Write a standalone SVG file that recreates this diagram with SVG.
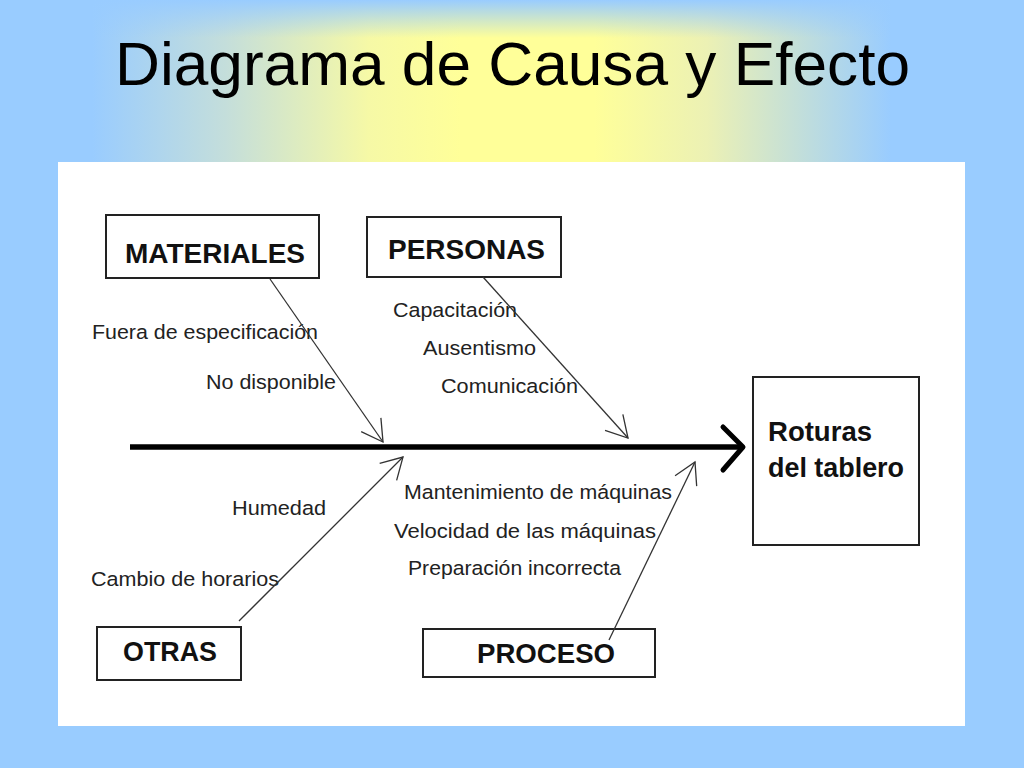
<svg xmlns="http://www.w3.org/2000/svg" width="1024" height="768" viewBox="0 0 1024 768">
  <defs>
    <linearGradient id="glow" x1="0" y1="0" x2="1024" y2="0" gradientUnits="userSpaceOnUse">
      <stop offset="0.09" stop-color="#99CCFF"/>
      <stop offset="0.22" stop-color="#C4DEDB"/>
      <stop offset="0.36" stop-color="#F6F9A6"/>
      <stop offset="0.45" stop-color="#FFFF99"/>
      <stop offset="0.58" stop-color="#FFFF99"/>
      <stop offset="0.69" stop-color="#ECF1B4"/>
      <stop offset="0.87" stop-color="#99CCFF"/>
    </linearGradient>
    <linearGradient id="topfade" x1="0" y1="0" x2="0" y2="38" gradientUnits="userSpaceOnUse">
      <stop offset="0" stop-color="#99CCFF" stop-opacity="1"/>
      <stop offset="1" stop-color="#99CCFF" stop-opacity="0"/>
    </linearGradient>
    <marker id="open" markerUnits="userSpaceOnUse" markerWidth="30" markerHeight="30" viewBox="-25 -15 30 30" refX="0" refY="0" orient="auto">
      <path d="M -21 -12 L 0 0 L -21 12" fill="none" stroke="#333" stroke-width="1.3"/>
    </marker>
    <style>
      .box { fill: #fff; stroke: #222; stroke-width: 2; }
      .head { font-family: "Liberation Sans", Arial, sans-serif; font-weight: bold; font-size: 28px; fill: #111; }
      .lbl { font-family: "Liberation Sans", Arial, sans-serif; font-size: 20.5px; fill: #222; }
      .bone { stroke: #333; stroke-width: 1.3; fill: none; marker-end: url(#open); }
    </style>
  </defs>

  <rect x="0" y="0" width="1024" height="768" fill="#99CCFF"/>
  <rect x="0" y="0" width="1024" height="170" fill="url(#glow)"/>
  <rect x="0" y="0" width="1024" height="40" fill="url(#topfade)"/>

  <text x="115" y="85" font-family="'Liberation Sans', Arial, sans-serif" font-size="61" fill="#000" textLength="795" lengthAdjust="spacingAndGlyphs">Diagrama de Causa y Efecto</text>

  <rect x="58" y="162" width="907" height="564" fill="#fff"/>

  <g id="materiales">
    <rect class="box" x="106" y="215" width="213" height="63"/>
    <text class="head" x="125" y="263" textLength="180" lengthAdjust="spacingAndGlyphs">MATERIALES</text>
  </g>
  <g id="personas">
    <rect class="box" x="367" y="217" width="194" height="60"/>
    <text class="head" x="388" y="259" textLength="157" lengthAdjust="spacingAndGlyphs">PERSONAS</text>
  </g>
  <g id="otras">
    <rect class="box" x="97" y="627" width="144" height="53"/>
    <text class="head" x="123" y="661" textLength="94" lengthAdjust="spacingAndGlyphs">OTRAS</text>
  </g>
  <g id="proceso">
    <rect class="box" x="423" y="629" width="232" height="48"/>
    <text class="head" x="477" y="663" textLength="138" lengthAdjust="spacingAndGlyphs">PROCESO</text>
  </g>
  <g id="efecto">
    <rect class="box" x="753" y="377" width="166" height="168"/>
    <text class="head" x="768" y="441" font-size="27" textLength="104" lengthAdjust="spacingAndGlyphs">Roturas</text>
    <text class="head" x="768" y="477" font-size="27" textLength="136" lengthAdjust="spacingAndGlyphs">del tablero</text>
  </g>

  <g id="labels">
    <text class="lbl" x="92" y="339" textLength="226" lengthAdjust="spacingAndGlyphs">Fuera de especificación</text>
    <text class="lbl" x="206" y="389" textLength="130" lengthAdjust="spacingAndGlyphs">No disponible</text>
    <text class="lbl" x="393" y="317" textLength="124" lengthAdjust="spacingAndGlyphs">Capacitación</text>
    <text class="lbl" x="423" y="355" textLength="113" lengthAdjust="spacingAndGlyphs">Ausentismo</text>
    <text class="lbl" x="441" y="393" textLength="137" lengthAdjust="spacingAndGlyphs">Comunicación</text>
    <text class="lbl" x="404" y="499" textLength="268" lengthAdjust="spacingAndGlyphs">Mantenimiento de máquinas</text>
    <text class="lbl" x="394" y="538" textLength="262" lengthAdjust="spacingAndGlyphs">Velocidad de las máquinas</text>
    <text class="lbl" x="408" y="575" textLength="213" lengthAdjust="spacingAndGlyphs">Preparación incorrecta</text>
    <text class="lbl" x="232" y="515" textLength="94" lengthAdjust="spacingAndGlyphs">Humedad</text>
    <text class="lbl" x="91" y="586" textLength="188" lengthAdjust="spacingAndGlyphs">Cambio de horarios</text>
  </g>

  <g id="connectors">
    <line x1="130" y1="447" x2="741" y2="447" stroke="#000" stroke-width="5.5"/>
    <polyline points="723,427 743,447 723,470" fill="none" stroke="#000" stroke-width="5" stroke-linecap="round" stroke-linejoin="round"/>
    <line class="bone" x1="270" y1="279" x2="383" y2="442"/>
    <line class="bone" x1="483" y1="277" x2="628" y2="438"/>
    <line class="bone" x1="239" y1="621" x2="403" y2="457"/>
    <line class="bone" x1="609" y1="640" x2="695" y2="462"/>
  </g>
</svg>
